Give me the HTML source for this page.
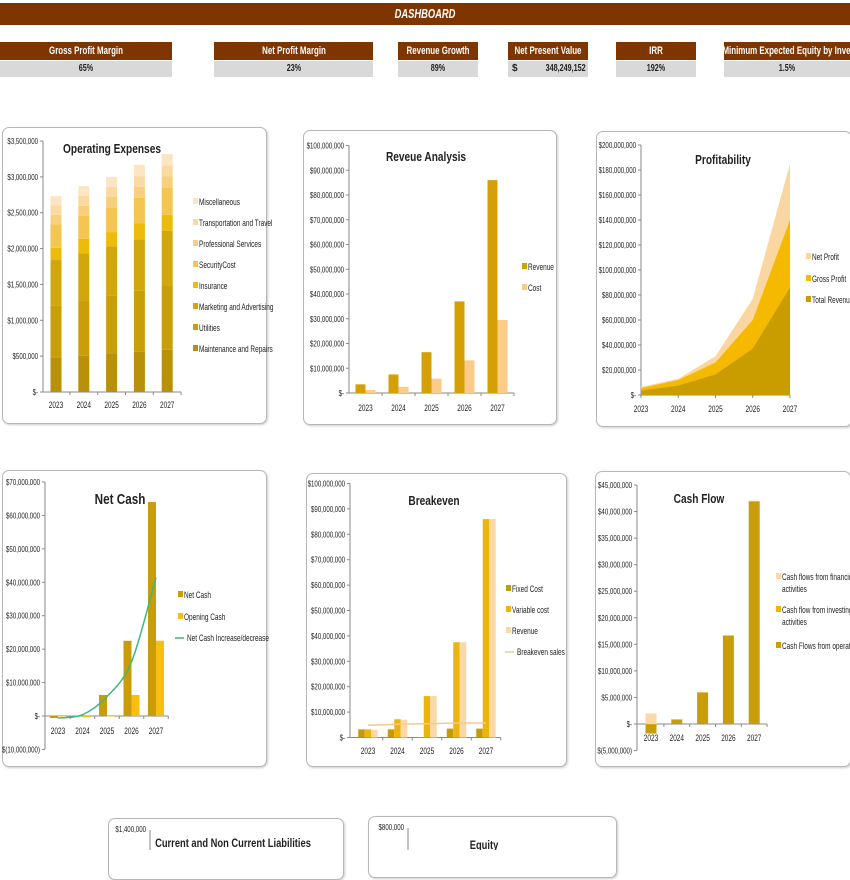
<!DOCTYPE html>
<html><head><meta charset="utf-8">
<style>
html,body{margin:0;padding:0;background:#fff;width:850px;height:850px;overflow:hidden;font-family:"Liberation Sans",sans-serif;}
.abs{position:absolute;}
.title{left:0;top:3px;width:850px;height:22px;background:#7E3500;color:#fff;font-weight:bold;font-style:italic;font-size:13px;line-height:22px;text-align:center;overflow:hidden;}
.kh{background:#7E3500;color:#fff;font-weight:bold;font-size:11px;height:18px;line-height:18px;top:42px;white-space:nowrap;overflow:hidden;}
.kv{background:#d9d9d9;color:#222;font-weight:bold;font-size:10px;height:16px;line-height:16px;top:61px;white-space:nowrap;overflow:hidden;}
.c{position:absolute;left:50%;top:0;transform:translateX(-50%) scaleX(0.72);white-space:nowrap;}
.panel{border:1px solid #b8b8b8;border-radius:7px;box-shadow:1px 1px 2px #ccc;background:#fff;}
svg text{font-family:"Liberation Sans",sans-serif;}
</style></head><body>
<div class="abs title"><span class="c">DASHBOARD</span></div>

<div class="abs kh" style="left:0;width:172px"><span class="c">Gross Profit Margin</span></div>
<div class="abs kv" style="left:0;width:172px"><span class="c">65%</span></div>
<div class="abs kh" style="left:214px;width:159px"><span class="c">Net Profit Margin</span></div>
<div class="abs kv" style="left:214px;width:159px"><span class="c">23%</span></div>
<div class="abs kh" style="left:398px;width:80px"><span class="c">Revenue Growth</span></div>
<div class="abs kv" style="left:398px;width:80px"><span class="c">89%</span></div>
<div class="abs kh" style="left:508px;width:80px"><span class="c">Net Present Value</span></div>
<div class="abs kv" style="left:508px;width:80px"><span style="position:absolute;left:4px">$</span><span style="position:absolute;right:2px;transform:scaleX(0.72);transform-origin:right">348,249,152</span></div>
<div class="abs kh" style="left:616px;width:80px"><span class="c">IRR</span></div>
<div class="abs kv" style="left:616px;width:80px"><span class="c">192%</span></div>
<div class="abs kh" style="left:724px;width:126px"><span class="c" style="left:66px">Minimum Expected Equity by Invest</span></div>
<div class="abs kv" style="left:724px;width:126px"><span class="c">1.5%</span></div>

<div class="abs panel" style="left:2px;top:127px;width:263px;height:295px"></div>
<div class="abs panel" style="left:303px;top:130px;width:252px;height:293px"></div>
<div class="abs panel" style="left:596px;top:131px;width:254px;height:294px"></div>
<div class="abs panel" style="left:2px;top:470px;width:263px;height:295px"></div>
<div class="abs panel" style="left:306px;top:473px;width:259px;height:292px"></div>
<div class="abs panel" style="left:595px;top:471px;width:254px;height:294px"></div>
<div class="abs panel" style="left:108px;top:818px;width:234px;height:60px"></div>
<div class="abs panel" style="left:368px;top:816px;width:247px;height:60px"></div>

<svg id="charts" class="abs" style="left:0;top:0" width="850" height="850"></svg>

<script>
// ---------- DATA ----------
const years = ['2023','2024','2025','2026','2027'];
const opexSeries = ['Maintenance and Repairs','Utilities','Marketing and Advertising','Insurance','SecurityCost','Professional Services','Transportation and Travel','Miscellaneous'];
const opexMaintenance = [480000,505000,530000,560000,590000];
const opexUtilities = [730000,770000,810000,850000,900000];
const opexMarketing = [630000,660000,690000,720000,760000];
const opexInsurance = [170000,200000,200000,220000,220000];
const opexSecurity = [330000,320000,340000,360000,380000];
const opexProfessional = [130000,140000,150000,150000,160000];
const opexTransport = [130000,140000,140000,150000,150000];
const opexMisc = [130000,135000,140000,160000,160000];
const opexTicks = [0,500000,1000000,1500000,2000000,2500000,3000000,3500000];
const revRevenue = [3500000,7500000,16500000,37000000,86000000];
const revCost = [1200000,2500000,5800000,13200000,29500000];
const revTicks = [0,10000000,20000000,30000000,40000000,50000000,60000000,70000000,80000000,90000000,100000000];
const profRevenue = [3500000,7500000,16500000,37000000,86000000];
const profGross = [5500000,12000000,26000000,60000000,140000000];
const profNet = [6500000,13000000,31000000,77000000,185000000];
const profTicks = [0,20000000,40000000,60000000,80000000,100000000,120000000,140000000,160000000,180000000,200000000];
const ncNetCash = [-600000,100000,6300000,22500000,64000000];
const ncOpening = [0,-400000,0,6300000,22500000];
const ncIncrease = [-600000,400000,5800000,16200000,41500000];
const ncTicks = [-10000000,0,10000000,20000000,30000000,40000000,50000000,60000000,70000000];
const beFixed = [3200000,3200000,0,3500000,3500000];
const beVariable = [3200000,7200000,16300000,37500000,86000000];
const beRevenue = [3000000,7000000,16300000,37500000,86000000];
const beSales = [4800000,5200000,5400000,5700000,5700000];
const beTicks = [0,10000000,20000000,30000000,40000000,50000000,60000000,70000000,80000000,90000000,100000000];
const cfOperation = [-1800000,900000,6000000,16700000,42000000];
const cfInvesting = [0,0,0,0,0];
const cfFinancing = [2000000,0,0,0,0];
const cfTicks = [-5000000,0,5000000,10000000,15000000,20000000,25000000,30000000,35000000,40000000,45000000];

// ---------- HELPERS ----------
const svg = document.getElementById('charts');
const NS = 'http://www.w3.org/2000/svg';
function mk(tag, attrs){ const e=document.createElementNS(NS,tag); for(const k in attrs) e.setAttribute(k,attrs[k]); svg.appendChild(e); return e; }
function fmt(v){ if(v===0) return '$-'; const s=Math.abs(v).toLocaleString('en-US'); return v<0?'$('+s+')':'$'+s; }
function lin(v0,p0,v1,p1){ return v=>p0+(v-v0)*(p1-p0)/(v1-v0); }
function text(x,y,str,size,anchor,weight,sx){
  const t=mk('text',{x:0,y:0,'font-size':size,'text-anchor':anchor||'start','font-weight':weight||'normal',fill:'#222',transform:'translate('+x+','+y+') scale('+(sx||0.72)+',1)'});
  t.textContent=str; return t;
}
function yAxis(ax, ticks, y, name){
  const l=mk('line',{x1:ax,x2:ax,y1:y(ticks[ticks.length-1]),y2:y(ticks[0]),stroke:'#888','stroke-width':1});
  
  
  ticks.forEach(v=>{
    mk('line',{x1:ax-3,x2:ax,y1:y(v),y2:y(v),stroke:'#888'});
    const t=text(ax-5,y(v)+3,fmt(v),8.5,'end');
    
    
  });
}
function xAxisBand(ax, x0, band, y0, labelY, name){
  const l=mk('line',{x1:ax,x2:x0+band*(years.length-0.5),y1:y0,y2:y0,stroke:'#888'});
  
  
  years.forEach((yr,i)=>{
    const xe=x0+band*(i+0.5);
    mk('line',{x1:xe,x2:xe,y1:y0,y2:y0+3,stroke:'#888'});
    const t=text(x0+band*i,labelY,yr,9,'middle');
    
    
  });
}
function bar(x,w,y,v0,v1,color,name){
  const a=y(v0),b=y(v1);
  const r=mk('rect',{x:x,y:Math.min(a,b),width:w,height:Math.max(0.5,Math.abs(a-b)),fill:color});
  
  
  return r;
}
function legend(x,y,label,color,name,isLine){
  if(isLine){ mk('line',{x1:x-3,x2:x+6,y1:y-3,y2:y-3,stroke:color,'stroke-width':1.5}); }
  else { mk('rect',{x:x,y:y-7,width:5,height:6,fill:color}); }
  const t=text(x+(isLine?9:6),y,label,9,'start');
  
  
  return t;
}
function title(x,y,str,size,name){
  const t=text(x,y,str,size,'middle','bold',0.78);
  
  
}

// ---------- OPERATING EXPENSES ----------
(function(){
  const y=lin(0,392,3500000,141), ax=43, x0=56, band=27.8, w=11;
  yAxis(ax,opexTicks,y,'opex');
  xAxisBand(ax,x0,band,y(0),408,'opex');
  const series=[opexMaintenance,opexUtilities,opexMarketing,opexInsurance,opexSecurity,opexProfessional,opexTransport,opexMisc];
  const colors=['#B8900A','#C89E0B','#D2A70E','#EDBB0C','#F4C550','#F7CF7E','#F9DAA0','#FBE5C2'];
  years.forEach((yr,i)=>{
    let acc=0;
    series.forEach((s,k)=>{ bar(x0+band*i-w/2,w,y,acc,acc+s[i],colors[k],'opex-bar-'+yr); acc+=s[i]; });
  });
  title(112,153,'Operating Expenses',13,'opex-title');
  for(let k=7;k>=0;k--){ legend(193,205+(7-k)*21,opexSeries[k],colors[k],'opex-legend-entry'); }
})();

// ---------- REVENUE ANALYSIS ----------
(function(){
  const y=lin(0,393,100000000,145.5), ax=349, x0=365.5, band=33, w=10;
  yAxis(ax,revTicks,y,'revenue');
  xAxisBand(ax,x0,band,y(0),411,'revenue');
  years.forEach((yr,i)=>{
    const c=x0+band*i;
    bar(c-w,w,y,0,revRevenue[i],'#D4A006','revenue-bar-'+yr);
    bar(c,w,y,0,revCost[i],'#FBCB8A','cost-bar-'+yr);
  });
  title(426,161,'Reveue  Analysis',13,'revenue-title');
  legend(522,270,'Revenue','#D4A006','revenue-legend-entry');
  legend(522,291,'Cost','#FBCB8A','cost-legend-entry');
})();

// ---------- PROFITABILITY ----------
(function(){
  const y=lin(0,395,200000000,145), ax=641, x0=641, step=37.25;
  yAxis(ax,profTicks,y,'profit');
  const l=mk('line',{x1:ax,x2:x0+step*4,y1:y(0),y2:y(0),stroke:'#888'});
  
  
  years.forEach((yr,i)=>{
    mk('line',{x1:x0+step*i,x2:x0+step*i,y1:y(0),y2:y(0)+3,stroke:'#888'});
    const t=text(x0+step*i,412,yr,9,'middle');
    
    
  });
  function area(vals,color,name){
    let d='M'+x0+','+y(0);
    vals.forEach((v,i)=>{ d+=' L'+(x0+step*i)+','+y(v); });
    d+=' L'+(x0+step*4)+','+y(0)+' Z';
    const p=mk('path',{d:d,fill:color});
    
    
  }
  area(profNet,'#FAD7A0','net-profit-area');
  area(profGross,'#F5BA00','gross-profit-area');
  area(profRevenue,'#C99C00','total-revenue-area');
  title(723,164,'Profitability',13,'profit-title');
  legend(806,260,'Net Profit','#FAD7A0','net-profit-legend-entry');
  legend(806,282,'Gross Profit','#F5BA00','gross-profit-legend-entry');
  legend(806,303,'Total Revenue','#C99C00','total-revenue-legend-entry');
})();

// ---------- NET CASH ----------
(function(){
  const y=lin(0,716,70000000,482), ax=45, x0=58, band=24.5, w=8;
  yAxis(ax,ncTicks,y,'netcash');
  xAxisBand(ax,x0,band,y(0),734,'netcash');
  years.forEach((yr,i)=>{
    const c=x0+band*i;
    bar(c-w,w,y,0,ncNetCash[i],'#C99C0A','net-cash-bar-'+yr);
    bar(c,w,y,0,ncOpening[i],'#F8BE14','opening-cash-bar-'+yr);
  });
  const pts=ncIncrease.map((v,i)=>[x0+band*i,y(v)]);
  let d='M'+pts[0][0]+','+pts[0][1];
  for(let i=0;i<pts.length-1;i++){
    const p0=pts[Math.max(0,i-1)],p1=pts[i],p2=pts[i+1],p3=pts[Math.min(pts.length-1,i+2)];
    const c1=[p1[0]+(p2[0]-p0[0])/6,p1[1]+(p2[1]-p0[1])/6];
    const c2=[p2[0]-(p3[0]-p1[0])/6,p2[1]-(p3[1]-p1[1])/6];
    d+=' C'+c1[0]+','+c1[1]+' '+c2[0]+','+c2[1]+' '+p2[0]+','+p2[1];
  }
  const ln=mk('path',{d:d,fill:'none',stroke:'#3DB87A','stroke-width':1.5});
  
  
  title(120,504,'Net Cash',15,'netcash-title');
  legend(178,598,'Net Cash','#C99C0A','net-cash-legend-entry');
  legend(178,620,'Opening Cash','#F8BE14','opening-cash-legend-entry');
  legend(178,641,'Net Cash Increase/decrease','#3DB87A','net-cash-increase-legend-entry',true);
})();

// ---------- BREAKEVEN ----------
(function(){
  const y=lin(0,737.5,100000000,483.5), ax=350, x0=368, band=29.5, w=6.5;
  yAxis(ax,beTicks,y,'breakeven');
  xAxisBand(ax,x0,band,y(0),754,'breakeven');
  years.forEach((yr,i)=>{
    const c=x0+band*i;
    bar(c-w*1.5,w,y,0,beFixed[i],'#C49A0A','fixed-cost-bar-'+yr);
    bar(c-w*0.5,w,y,0,beVariable[i],'#EDB40C','variable-cost-bar-'+yr);
    bar(c+w*0.5,w,y,0,beRevenue[i],'#FBD8A8','revenue-bar-'+yr);
  });
  const d=beSales.map((v,i)=>(i?'L':'M')+(x0+band*i)+','+y(v)).join(' ');
  const ln=mk('path',{d:d,fill:'none',stroke:'#F7C890','stroke-width':1.5});
  
  
  title(434,505,'Breakeven',13,'breakeven-title');
  legend(506,592,'Fixed Cost','#C49A0A','fixed-cost-legend-entry');
  legend(506,613,'Variable cost','#EDB40C','variable-cost-legend-entry');
  legend(506,634,'Revenue','#FBD8A8','be-revenue-legend-entry');
  legend(508,655,'Breakeven sales','#F7C890','breakeven-sales-legend-entry',true);
})();

// ---------- CASH FLOW ----------
(function(){
  const y=lin(0,724,45000000,485), ax=637, x0=651, band=25.8, w=11;
  yAxis(ax,cfTicks,y,'cashflow');
  xAxisBand(ax,x0,band,y(0),741,'cashflow');
  years.forEach((yr,i)=>{
    const c=x0+band*i-w/2;
    let pos=0,neg=0;
    [[cfOperation,'#C99C0A','operation'],[cfInvesting,'#EDB40C','investing'],[cfFinancing,'#FCD8A8','financing']].forEach(s=>{
      const v=s[0][i];
      if(v>=0){ bar(c,w,y,pos,pos+v,s[1],'cf-'+s[2]+'-bar-'+yr); pos+=v; }
      else { bar(c,w,y,neg,neg+v,s[1],'cf-'+s[2]+'-bar-'+yr); neg+=v; }
    });
  });
  title(699,503,'Cash Flow',13,'cashflow-title');
  legend(776,580,'Cash flows from financing','#FCD8A8','cf-financing-legend-entry');
  const t1=text(782,592,'activities',9,'start');  
  legend(776,613,'Cash flow from investing','#EDB40C','cf-investing-legend-entry');
  const t2=text(782,625,'activities',9,'start');  
  legend(776,649,'Cash Flows from operation','#C99C0A','cf-operation-legend-entry');
})();

// ---------- BOTTOM PANELS (cut off) ----------
(function(){
  const a=text(146,832,'$1,400,000',8.5,'end');  
  const la=mk('line',{x1:150,x2:150,y1:830,y2:850,stroke:'#888'});  
  title(233,847,'Current and Non Current Liabilities',12,'liabilities-title');
  const b=text(404,830,'$800,000',8.5,'end');  
  const lb=mk('line',{x1:408,x2:408,y1:828,y2:850,stroke:'#888'});  
  title(484,849,'Equity',12,'equity-title');
})();
</script>
</body></html>
